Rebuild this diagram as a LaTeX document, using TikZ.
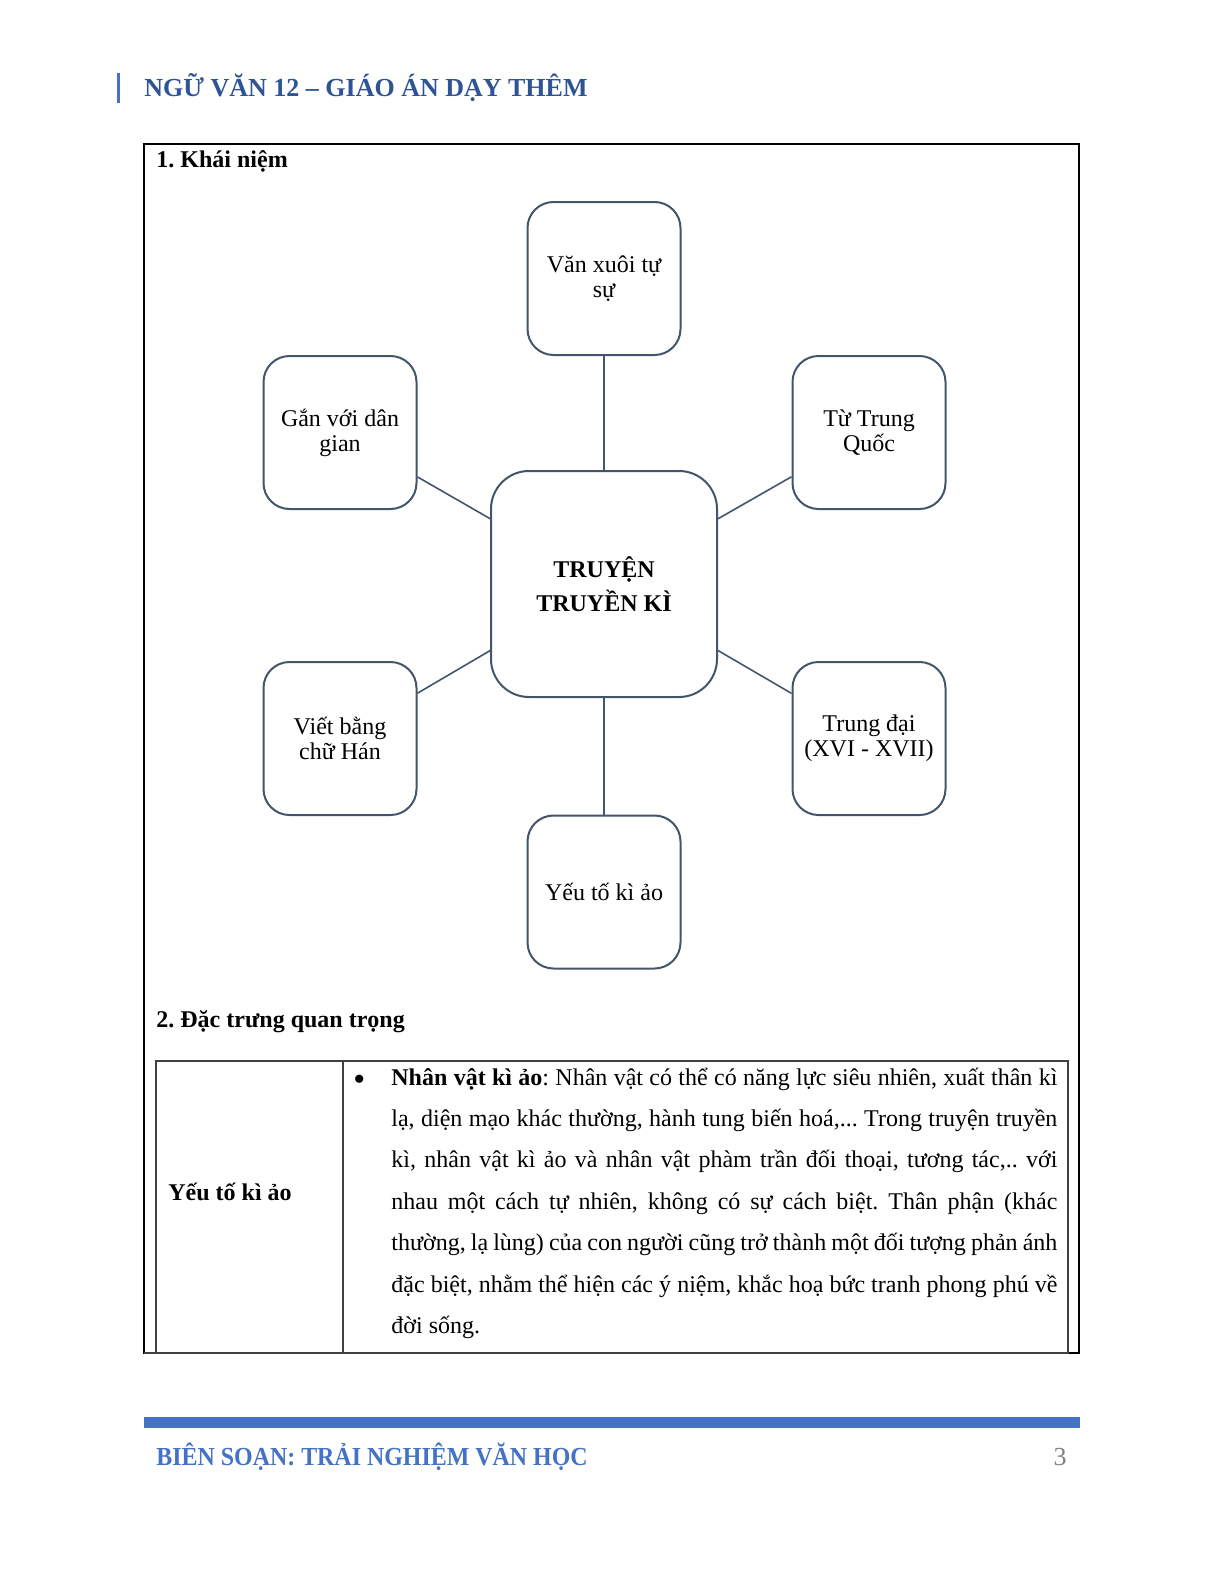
\documentclass[tikz,border=0pt]{standalone}
\usepackage{fontspec}
\usepackage{graphicx}
\setmainfont{Liberation Serif}
\definecolor{hdrblue}{HTML}{2F5496}
\definecolor{ftrblue}{HTML}{4472C4}
\definecolor{slate}{HTML}{44546A}
\definecolor{tblgray}{HTML}{404040}
\frenchspacing
\begin{document}
\begin{tikzpicture}[x=0.5pt,y=-0.5pt,
  leaf/.style={draw=slate, line width=1pt, rounded corners=13pt, minimum width=76.5pt, minimum height=76.5pt, inner sep=2pt, align=center, font=\fontsize{12}{12.6}\selectfont},
  hub/.style={draw=slate, line width=1pt, rounded corners=19pt, minimum width=113pt, minimum height=113pt, align=center, font=\bfseries\fontsize{12}{16.7}\selectfont},
  link/.style={draw=slate, line width=0.8pt},
  plain/.style={anchor=base west, inner sep=0pt},
  head/.style={plain, font=\bfseries\fontsize{12}{14}\selectfont}]
\useasboundingbox (0,0) rectangle (1224,1584);
% header
\draw[ftrblue, line width=1.5pt] (118,73) -- (118,103);
\node[plain, text=hdrblue, font=\bfseries\fontsize{13}{15}\selectfont] (hdr) at (144,97) {NGỮ VĂN 12 – GIÁO ÁN DẠY THÊM};
% outer frame
\draw[black, line width=0.6pt] (144,144) rectangle (1079,1353);
\node[head] (s1) at (156,167) {1. Khái niệm};
% diagram
\node[hub] (c) at (604,584) {TRUYỆN\\TRUYỀN KÌ};
\node[leaf] (t) at (604,278.5) {Văn xuôi tự\\sự};
\node[leaf] (lu) at (340,432.5) {Gắn với dân\\gian};
\node[leaf] (ru) at (869,432.5) {Từ Trung\\Quốc};
\node[leaf] (ll) at (340,738.5) {Viết bằng\\chữ Hán};
\node[leaf] (rl) at (869,738.5) {Trung đại\\(XVI - XVII)};
\node[leaf] (b) at (604,892) {Yếu tố kì ảo};
\draw[link] (c) -- (t);
\draw[link] (c) -- (lu);
\draw[link] (c) -- (ru);
\draw[link] (c) -- (ll);
\draw[link] (c) -- (rl);
\draw[link] (c) -- (b);
% section 2
\node[head] (s2) at (156,1027) {2. Đặc trưng quan trọng};
\draw[tblgray, line width=0.9pt] (156,1061) rectangle (1068,1353);
\draw[tblgray, line width=0.9pt] (343,1061) -- (343,1353);
\draw[tblgray, line width=1.3pt] (144,1353) -- (1068,1353);
\node[head] (k) at (168,1200) {Yếu tố kì ảo};
\node[plain, font=\fontsize{17}{17}\selectfont] (bul) at (353,1090) {•};
\node[plain, text width=333pt, align=justify, font=\fontsize{12}{20.7}\selectfont] (para) at (391,1085) {\textbf{Nhân vật kì ảo}: Nhân vật có thể có năng lực siêu nhiên, xuất thân kì\linebreak lạ, diện mạo khác thường, hành tung biến hoá,... Trong truyện truyền\linebreak kì, nhân vật kì ảo và nhân vật phàm trần đối thoại, tương tác,.. với\linebreak nhau một cách tự nhiên, không có sự cách biệt. Thân phận (khác\linebreak thường, lạ lùng) của con người cũng trở thành một đối tượng phản ánh\linebreak đặc biệt, nhằm thể hiện các ý niệm, khắc hoạ bức tranh phong phú về\linebreak đời sống.};
% footer
\fill[ftrblue] (144,1417) rectangle (1080,1428);
\node[plain, text=ftrblue, font=\bfseries\fontsize{13}{15}\selectfont] (ftr) at (156,1465) {\scalebox{0.92}[1]{BIÊN SOẠN: TRẢI NGHIỆM VĂN HỌC}};
\node[anchor=base east, inner sep=0pt, text=gray, font=\fontsize{13}{15}\selectfont] (pg) at (1067,1465) {3};
\end{tikzpicture}
\end{document}
